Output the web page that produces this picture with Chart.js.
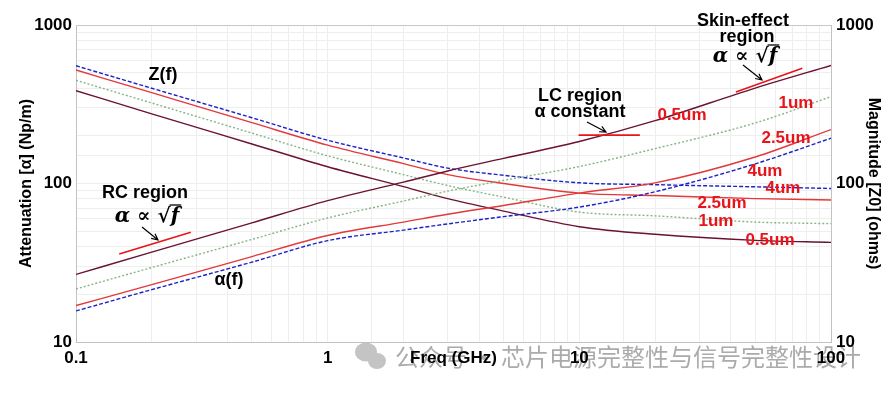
<!DOCTYPE html>
<html>
<head>
<meta charset="utf-8">
<script src="https://cdn.jsdelivr.net/npm/chart.js@4.4.1/dist/chart.umd.min.js"></script>
<style>
  html, body { margin: 0; padding: 0; background: #fff; }
  #wrap { width: 896px; height: 394px; }
</style>
</head>
<body>
<div id="wrap"><canvas id="grafico" width="896" height="394"></canvas></div>
<script>
// frecuencias (GHz)
const freqGHz = [0.1, 0.2, 0.5, 1, 2, 3, 5, 10, 20, 50, 100];

// atenuacion alpha (Np/m) por espesor
const alpha05 = [26.7, 36.9, 56.5, 78, 102, 120, 144, 184, 249, 400, 556];
const alpha1  = [21.6, 29.5, 44.4, 60.6, 77.5, 89.5, 104.6, 128, 166, 241, 353];
const alpha25 = [17.0, 23.0, 34.6, 47, 57.1, 64, 72.7, 87, 101, 147, 219];
const alpha4  = [15.7, 21.4, 31.9, 43.6, 50.8, 55.6, 61.8, 71, 88.7, 133, 193];

// impedancia |Z0| (ohms)
const z05 = [385, 275, 177.6, 127.5, 95.5, 80.2, 67, 53.4, 47.8, 43.8, 42.5];
const z1  = [448, 322, 208, 149.5, 113.8, 97.1, 82, 66, 62.5, 57.1, 55.8];
const z25 = [520, 374, 242, 174.5, 133.5, 113.7, 100, 87, 84, 80.3, 78.7];
const z4  = [553, 399, 260, 187.5, 145, 125, 112.7, 101, 98.3, 95.3, 93];

const decadasX = ['0.1', '1', '10', '100'];
const decadasY = ['10', '100', '1000'];

// lineas guia rojas (pendientes), en coordenadas de datos
const guiaRC   = [[0.1485, 35.9], [0.286, 49.2]];
const guiaLC   = [[9.93, 202], [17.4, 202]];
const guiaPiel = [[41.9, 378], [76.9, 533]];

const pares = (ys) => freqGHz.map((f, i) => ({ x: f, y: ys[i] }));

const MARRON = '#6a1232';
const VERDE = '#86b486';
const ROJO = '#e2393b';
const AZUL = '#1c22c8';
const ROJO_TXT = '#e8141b';

function serie(label, ys, color, dash, eje) {
  return {
    label, data: pares(ys), yAxisID: eje,
    borderColor: color, borderWidth: 1.4, borderDash: dash,
    pointRadius: 0, fill: false, cubicInterpolationMode: 'monotone'
  };
}

function soloDecadas(lista) {
  return (v) => {
    const s = String(Math.round(v * 1000) / 1000);
    return lista.includes(s) ? s : '';
  };
}

const fuenteB = '"Liberation Sans", Arial, sans-serif';

function flecha(ctx, x1, y1, x2, y2) {
  ctx.save();
  ctx.strokeStyle = '#000';
  ctx.lineWidth = 1.2;
  ctx.beginPath();
  ctx.moveTo(x1, y1);
  ctx.lineTo(x2, y2);
  const a = Math.atan2(y2 - y1, x2 - x1);
  ctx.moveTo(x2 - 7 * Math.cos(a - 0.45), y2 - 7 * Math.sin(a - 0.45));
  ctx.lineTo(x2, y2);
  ctx.lineTo(x2 - 7 * Math.cos(a + 0.45), y2 - 7 * Math.sin(a + 0.45));
  ctx.stroke();
  ctx.restore();
}

function texto(ctx, t, x, y, font, color, align) {
  ctx.save();
  ctx.font = font;
  ctx.fillStyle = color || '#000';
  ctx.textAlign = align || 'center';
  ctx.textBaseline = 'middle';
  ctx.fillText(t, x, y);
  ctx.restore();
}

function formula(ctx, cx, cy) {
  ctx.save();
  ctx.font = 'italic bold 20px "DejaVu Serif", serif';
  ctx.fillStyle = '#000';
  ctx.textBaseline = 'middle';
  ctx.textAlign = 'left';
  const t = 'α ∝ √f';
  const w = ctx.measureText(t).width;
  const wf = ctx.measureText('f').width;
  const x0 = cx - w / 2;
  ctx.fillText(t, x0, cy);
  ctx.strokeStyle = '#000';
  ctx.lineWidth = 1.3;
  ctx.beginPath();
  ctx.moveTo(x0 + w - wf - 1, cy - 12);
  ctx.lineTo(x0 + w + 2, cy - 12);
  ctx.stroke();
  ctx.restore();
}

const notas = {
  id: 'notas',
  beforeDraw(chart) {
    const ctx = chart.ctx;
    // marca de agua
    ctx.save();
    ctx.fillStyle = '#c4c4c4';
    ctx.beginPath();
    ctx.ellipse(366, 352, 11, 9.5, 0, 0, Math.PI * 2);
    ctx.fill();
    ctx.beginPath();
    ctx.ellipse(377, 361, 9, 8, 0, 0, Math.PI * 2);
    ctx.fill();
    ctx.restore();
    const fw = '24px "Noto Sans CJK SC", sans-serif';
    texto(ctx, '公众号', 395, 357, fw, '#ababab', 'left');
    texto(ctx, '·', 484, 357, fw, '#ababab', 'center');
    texto(ctx, '芯片电源完整性与信号完整性设计', 501, 357, fw, '#ababab', 'left');
  },
  afterDraw(chart) {
    const ctx = chart.ctx;
    const sx = chart.scales.x, sy = chart.scales.y;
    const p = ([f, v]) => [sx.getPixelForValue(f), sy.getPixelForValue(v)];

    // borde superior del area
    const ca = chart.chartArea;
    ctx.save();
    ctx.strokeStyle = '#c8c8c8';
    ctx.lineWidth = 1;
    ctx.beginPath();
    ctx.moveTo(ca.left, ca.top + 0.5);
    ctx.lineTo(ca.right, ca.top + 0.5);
    ctx.stroke();
    ctx.restore();

    ctx.save();
    ctx.strokeStyle = ROJO_TXT;
    ctx.lineWidth = 1.6;
    [guiaRC, guiaLC, guiaPiel].forEach(g => {
      const a = p(g[0]), b = p(g[1]);
      ctx.beginPath();
      ctx.moveTo(a[0], a[1]);
      ctx.lineTo(b[0], b[1]);
      ctx.stroke();
    });
    ctx.restore();

    const fb = 'bold 18px ' + fuenteB;
    texto(ctx, 'Z(f)', 163, 75, fb);
    texto(ctx, 'α(f)', 229, 280, fb);
    texto(ctx, 'RC region', 145, 193, fb);
    formula(ctx, 147, 217);
    flecha(ctx, 142, 227, 158, 240);

    texto(ctx, 'LC region', 580, 96, fb);
    texto(ctx, 'α constant', 580, 112, fb);
    flecha(ctx, 587, 122, 606, 132);

    texto(ctx, 'Skin-effect', 743, 21, fb);
    texto(ctx, 'region', 747, 37, fb);
    formula(ctx, 745, 57);
    flecha(ctx, 743, 65, 762, 80);

    const fr = 'bold 17px ' + fuenteB;
    texto(ctx, '0.5um', 682, 115, fr, ROJO_TXT);
    texto(ctx, '1um', 796, 103, fr, ROJO_TXT);
    texto(ctx, '2.5um', 786, 138, fr, ROJO_TXT);
    texto(ctx, '4um', 765, 171, fr, ROJO_TXT);
    texto(ctx, '4um', 783, 188, fr, ROJO_TXT);
    texto(ctx, '2.5um', 722, 203, fr, ROJO_TXT);
    texto(ctx, '1um', 716, 221, fr, ROJO_TXT);
    texto(ctx, '0.5um', 770, 240, fr, ROJO_TXT);
  }
};

const rejilla = '#eeeeee';
const borde = '#c2c2c2';
const fTick = { family: fuenteB, size: 17, weight: 'bold' };
const fTit = { family: fuenteB, size: 16, weight: 'bold' };

new Chart(document.getElementById('grafico').getContext('2d'), {
  type: 'line',
  data: {
    datasets: [
      serie('alpha 0.5um', alpha05, MARRON, [], 'y'),
      serie('alpha 1um', alpha1, VERDE, [2, 2], 'y'),
      serie('alpha 2.5um', alpha25, ROJO, [], 'y'),
      serie('alpha 4um', alpha4, AZUL, [4, 2], 'y'),
      serie('Z 0.5um', z05, MARRON, [], 'y2'),
      serie('Z 1um', z1, VERDE, [2, 2], 'y2'),
      serie('Z 2.5um', z25, ROJO, [], 'y2'),
      serie('Z 4um', z4, AZUL, [4, 2], 'y2')
    ]
  },
  options: {
    responsive: false,
    animation: false,
    devicePixelRatio: 1,
    layout: { padding: { top: 25, left: 0, right: 0, bottom: 0 } },
    plugins: { legend: { display: false }, tooltip: { enabled: false } },
    scales: {
      x: {
        type: 'logarithmic', min: 0.1, max: 100,
        afterFit: (s) => { s.height = 52; },
        grid: { color: rejilla, drawTicks: false },
        border: { color: borde },
        ticks: { autoSkip: false, maxRotation: 0, padding: 6, color: '#000', font: fTick, callback: soloDecadas(decadasX) },
        title: { display: true, text: 'Freq (GHz)', color: '#000', font: { family: fuenteB, size: 17, weight: 'bold' }, padding: { top: 0, bottom: 25 } }
      },
      y: {
        type: 'logarithmic', position: 'left', min: 10, max: 1000,
        afterFit: (s) => { s.width = 76; },
        grid: { color: rejilla, drawTicks: false },
        border: { color: borde },
        ticks: { autoSkip: false, padding: 4, color: '#000', font: fTick, callback: soloDecadas(decadasY) },
        title: { display: true, text: 'Attenuation [α] (Np/m)', color: '#000', font: fTit, padding: { top: 17, bottom: 0 } }
      },
      y2: {
        type: 'logarithmic', position: 'right', min: 10, max: 1000,
        afterFit: (s) => { s.width = 65; },
        grid: { drawOnChartArea: false, drawTicks: false },
        border: { color: borde },
        ticks: { autoSkip: false, padding: 5, color: '#000', font: fTick, callback: soloDecadas(decadasY) },
        title: { display: true, text: 'Magnitude [Z0] (ohms)', color: '#000', font: fTit, padding: { top: 13, bottom: 0 } }
      }
    }
  },
  plugins: [notas]
});
</script>
</body>
</html>
